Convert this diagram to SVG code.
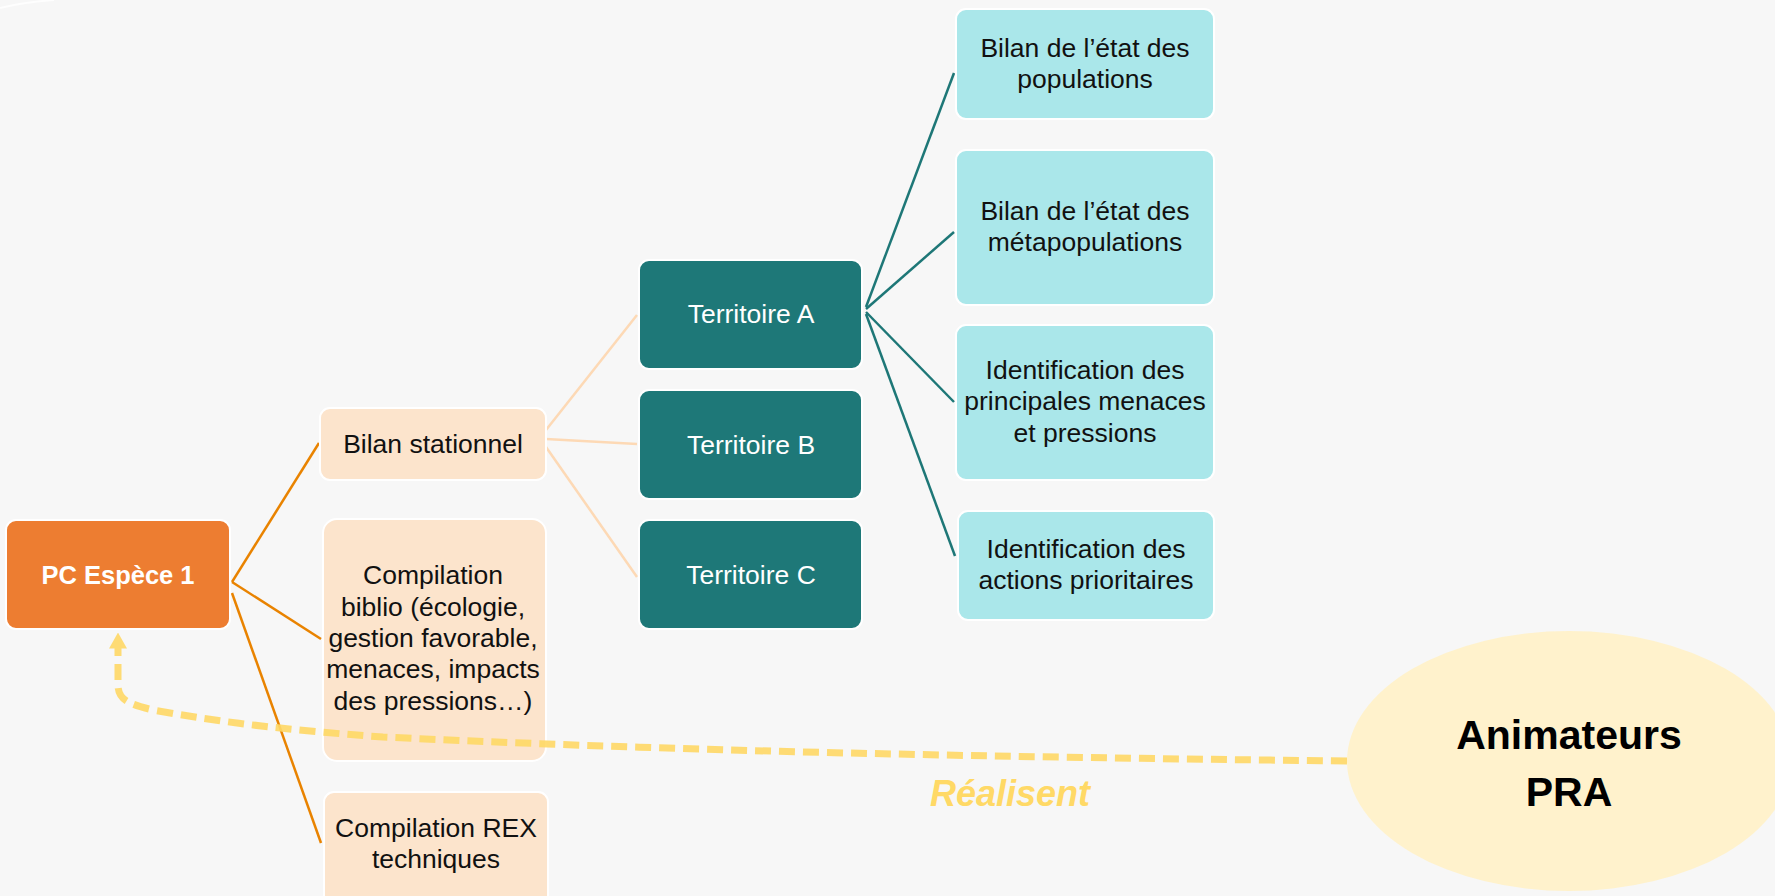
<svg xmlns="http://www.w3.org/2000/svg" width="1775" height="896" viewBox="0 0 1775 896">
<defs>
<style>
.n rect{stroke:#ffffff;stroke-width:2}
.org{fill:#ED7D31}
.pch{fill:#FCE4CC}
.tel{fill:#1E7878}
.cyn{fill:#AAE7EA}
.t{font-family:"Liberation Sans",Arial,sans-serif;font-size:26.5px;text-anchor:middle;fill:#111}
.tw{font-family:"Liberation Sans",Arial,sans-serif;font-size:26.5px;text-anchor:middle;fill:#ffffff}
.tb{font-family:"Liberation Sans",Arial,sans-serif;font-weight:bold;text-anchor:middle}
.c1{stroke:#E98300;stroke-width:2.5;fill:none}
.c2{stroke:#FDD9B5;stroke-width:2.5;fill:none}
.c3{stroke:#1E7777;stroke-width:2.5;fill:none}
</style>
<marker id="ah" viewBox="0 0 16 18" refX="0.5" refY="9" markerWidth="16" markerHeight="18" markerUnits="userSpaceOnUse" orient="auto">
<path d="M0,0 L16,9 L0,18 z" fill="#FFD966"/>
</marker>
</defs>
<rect x="0" y="0" width="1775" height="896" fill="#F7F7F7"/>
<path d="M0,8 Q25,2 54,0" stroke="#ffffff" stroke-width="2" fill="none" opacity="0.8"/>

<g id="connectors">
<path class="c1" d="M232,582 L319,443"/>
<path class="c1" d="M232,582 L321,639"/>
<path class="c1" d="M232,593 L321,843"/>
<path class="c2" d="M546,430 L637,315"/>
<path class="c2" d="M546,439 L637,444"/>
<path class="c2" d="M546,447 L637,577"/>
<path class="c3" d="M866,307 L954,73"/>
<path class="c3" d="M866,309 L954,232"/>
<path class="c3" d="M866,312 L954,402"/>
<path class="c3" d="M866,314 L955,556"/>
</g>

<g id="pc" class="n">
<rect class="org" x="6" y="520" width="224" height="109" rx="10"/>
<text class="tb" x="118" y="584" font-size="25.5" fill="#ffffff">PC Espèce 1</text>
</g>

<g id="bilan-stationnel" class="n">
<rect class="pch" x="320" y="408" width="226" height="72" rx="10"/>
<text class="t" x="433" y="453">Bilan stationnel</text>
</g>

<g id="compilation-biblio" class="n">
<rect class="pch" x="323" y="519" width="223" height="242" rx="14"/>
<text class="t" x="433" y="584">Compilation</text>
<text class="t" x="433" y="616">biblio (écologie,</text>
<text class="t" x="433" y="647">gestion favorable,</text>
<text class="t" x="433" y="678">menaces, impacts</text>
<text class="t" x="433" y="710">des pressions…)</text>
</g>

<g id="compilation-rex" class="n">
<rect class="pch" x="324" y="792" width="224" height="120" rx="10"/>
<text class="t" x="436" y="837">Compilation REX</text>
<text class="t" x="436" y="868">techniques</text>
</g>

<g id="territoire-a" class="n">
<rect class="tel" x="639" y="260" width="223" height="109" rx="10"/>
<text class="tw" x="751" y="323">Territoire A</text>
</g>
<g id="territoire-b" class="n">
<rect class="tel" x="639" y="390" width="223" height="109" rx="10"/>
<text class="tw" x="751" y="454">Territoire B</text>
</g>
<g id="territoire-c" class="n">
<rect class="tel" x="639" y="520" width="223" height="109" rx="10"/>
<text class="tw" x="751" y="584">Territoire C</text>
</g>

<g id="bilan-populations" class="n">
<rect class="cyn" x="956" y="9" width="258" height="110" rx="10"/>
<text class="t" x="1085" y="57">Bilan de l’état des</text>
<text class="t" x="1085" y="88">populations</text>
</g>
<g id="bilan-metapopulations" class="n">
<rect class="cyn" x="956" y="150" width="258" height="155" rx="10"/>
<text class="t" x="1085" y="220">Bilan de l’état des</text>
<text class="t" x="1085" y="251">métapopulations</text>
</g>
<g id="identification-menaces" class="n">
<rect class="cyn" x="956" y="325" width="258" height="155" rx="10"/>
<text class="t" x="1085" y="379">Identification des</text>
<text class="t" x="1085" y="410">principales menaces</text>
<text class="t" x="1085" y="442">et pressions</text>
</g>
<g id="identification-actions" class="n">
<rect class="cyn" x="958" y="511" width="256" height="109" rx="10"/>
<text class="t" x="1086" y="558">Identification des</text>
<text class="t" x="1086" y="589">actions prioritaires</text>
</g>

<g id="animateurs">
<ellipse cx="1569" cy="761" rx="222" ry="130" fill="#FFF2CC"/>
<text class="tb" x="1569" y="749" font-size="41" fill="#000">Animateurs</text>
<text class="tb" x="1569" y="806" font-size="41" fill="#000">PRA</text>
</g>

<g id="realisent-link">
<path d="M1347,761 C1000,757 700,752 383,737 C300,731 230,724 153,710 C124,703 118,698 118,684 L118,648" stroke="#FFD966" stroke-width="7" fill="none" stroke-dasharray="16,8" opacity="0.9" marker-end="url(#ah)"/>
<text class="tb" x="1010" y="806" font-size="36" font-style="italic" fill="#FFD966">Réalisent</text>
</g>
</svg>
